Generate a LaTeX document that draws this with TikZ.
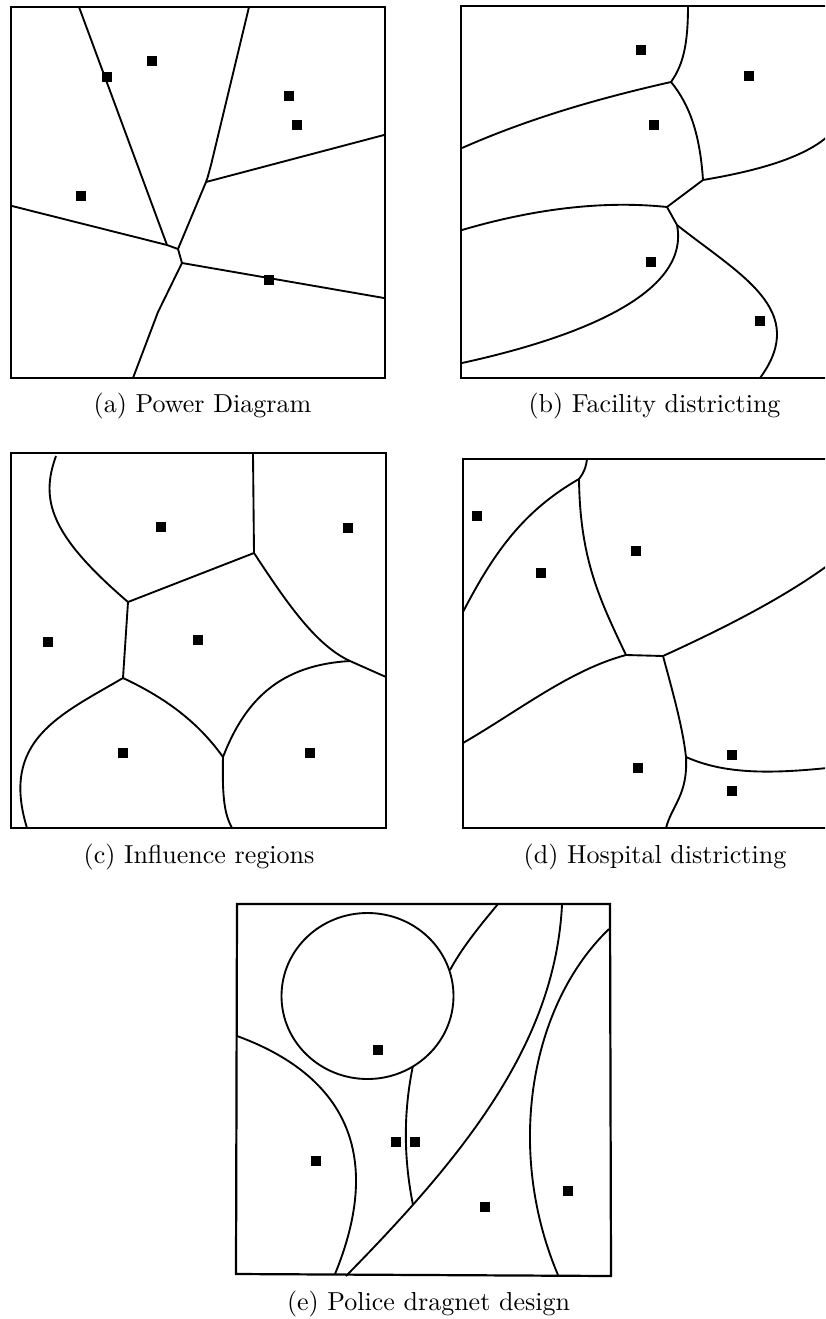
\documentclass[tikz,border=0pt]{standalone}
\usepackage{fontspec}
\begin{document}
\begin{tikzpicture}[x=0.3846pt,y=-0.3846pt,
  edge/.style={line width=0.72pt,line join=round},
  frame/.style={line width=0.85pt},
  sq/.style={rectangle,fill=black,minimum size=3.6pt,inner sep=0pt},
  captxt/.style={anchor=base,inner sep=0pt,font=\fontsize{10}{12}\selectfont}]
\useasboundingbox (0,0) rectangle (825,1319);
\clip (0,0) rectangle (825,1319);

% ---------- (a) Power Diagram ----------
\draw[frame] (11,7) rectangle (385,378);
\draw[edge] (79,7) -- (167,245) -- (178,249);
\draw[edge] (12,206) -- (167,245);
\draw[edge] (249,7) -- (211,165) .. controls (209,172) and (208,177) .. (206,182) -- (178,249) -- (182,263);
\draw[edge] (206,182) -- (384,135);
\draw[edge] (182,263) -- (384,298);
\draw[edge] (182,263) -- (158,312) -- (133,378);
\node[sq] (a1) at (152,61) {};
\node[sq] (a2) at (107,77) {};
\node[sq] (a3) at (289,96) {};
\node[sq] (a4) at (297,125) {};
\node[sq] (a5) at (81,196) {};
\node[sq] (a6) at (269,280) {};
\node[captxt] (ca) at (202.5,412) {(a) Power Diagram};

% ---------- (b) Facility districting ----------
\draw[frame] (830,6) -- (461,6) -- (461,378) -- (830,378);
\draw[edge] (688,6) .. controls (688,45) and (683,65) .. (671,82);
\draw[edge] (671,82) .. controls (600,98) and (530,118) .. (462,148);
\draw[edge] (671,82) .. controls (690,105) and (700,135) .. (703,180);
\draw[edge] (703,180) .. controls (750,172) and (800,160) .. (827,137);
\draw[edge] (703,180) -- (667,207) -- (677,225);
\draw[edge] (667,207) .. controls (600,200) and (530,210) .. (462,230);
\draw[edge] (677,225) .. controls (690,290) and (590,335) .. (462,363);
\draw[edge] (677,225) .. controls (740,275) and (810,310) .. (760,378);
\node[sq] (b1) at (641,50) {};
\node[sq] (b2) at (749,76) {};
\node[sq] (b3) at (654,125) {};
\node[sq] (b4) at (651,262) {};
\node[sq] (b5) at (760,321) {};
\node[captxt] (cb) at (654.5,412) {(b) Facility districting};

% ---------- (c) Influence regions ----------
\draw[frame] (11,453) rectangle (386,828);
\draw[edge] (56,456) .. controls (40,500) and (50,535) .. (128,602);
\draw[edge] (253,454) -- (254,553) -- (128,602) -- (123,678);
\draw[edge] (254,553) .. controls (285,600) and (315,645) .. (350,661);
\draw[edge] (350,661) -- (386,677);
\draw[edge] (123,678) .. controls (60,715) and (0,740) .. (27,828);
\draw[edge] (123,678) .. controls (170,700) and (200,725) .. (223,757);
\draw[edge] (223,757) .. controls (245,700) and (280,665) .. (350,661);
\draw[edge] (223,757) .. controls (222,800) and (225,815) .. (232,828);
\node[sq] (c1) at (161,527) {};
\node[sq] (c2) at (348,528) {};
\node[sq] (c3) at (48,642) {};
\node[sq] (c4) at (198,640) {};
\node[sq] (c5) at (123,753) {};
\node[sq] (c6) at (310,753) {};
\node[captxt] (cc) at (199,863) {(c) Influence regions};

% ---------- (d) Hospital districting ----------
\draw[frame] (830,459) -- (463,459) -- (463,828) -- (830,828);
\draw[edge] (587,459) .. controls (586,468) and (583,474) .. (579,479);
\draw[edge] (579,479) .. controls (525,510) and (495,550) .. (463,612);
\draw[edge] (579,479) .. controls (580,560) and (600,600) .. (626,655);
\draw[edge] (626,655) -- (663,656);
\draw[edge] (663,656) .. controls (720,630) and (780,600) .. (827,566);
\draw[edge] (626,655) .. controls (570,670) and (520,710) .. (463,743);
\draw[edge] (663,656) .. controls (675,700) and (683,730) .. (686,757);
\draw[edge] (686,757) .. controls (720,772) and (760,775) .. (827,768);
\draw[edge] (686,757) .. controls (688,795) and (672,805) .. (666,828);
\node[sq] (d1) at (477,516) {};
\node[sq] (d2) at (541,573) {};
\node[sq] (d3) at (636,551) {};
\node[sq] (d4) at (638,768) {};
\node[sq] (d5) at (732,755) {};
\node[sq] (d6) at (732,791) {};
\node[captxt] (cd) at (655,863) {(d) Hospital districting};

% ---------- (e) Police dragnet design ----------
\draw[frame] (237,904) -- (610,904) -- (611,1276) -- (236,1274) -- cycle;
\draw[edge] (367.5,996) ellipse [x radius=86,y radius=83];
\draw[edge] (450,970) .. controls (462,948) and (478,928) .. (498,904);
\draw[edge] (412.7,1067) .. controls (403,1115) and (404,1160) .. (413,1205);
\draw[edge] (237,1036) .. controls (330,1070) and (390,1140) .. (335,1274);
\draw[edge] (346,1276) .. controls (470,1150) and (555,1040) .. (562,905);
\draw[edge] (609,929) .. controls (530,1005) and (505,1150) .. (558,1275);
\node[sq] (e1) at (378,1050) {};
\node[sq] (e2) at (396,1142) {};
\node[sq] (e3) at (415,1142) {};
\node[sq] (e4) at (316,1161) {};
\node[sq] (e5) at (485,1207) {};
\node[sq] (e6) at (568,1191) {};
\node[captxt] (ce) at (428.5,1310) {(e) Police dragnet design};
\end{tikzpicture}
\end{document}
